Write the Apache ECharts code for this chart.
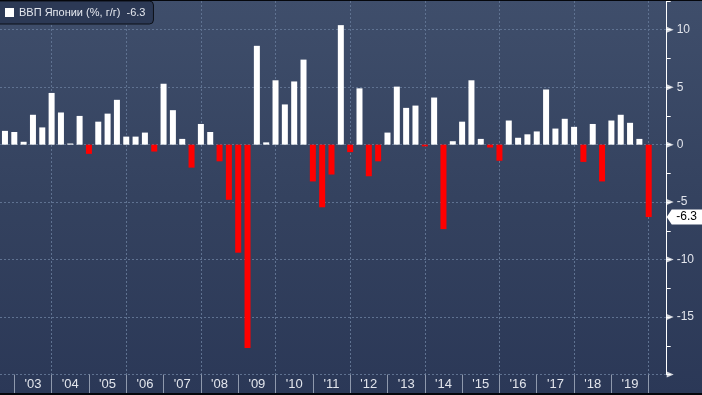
<!DOCTYPE html>
<html><head><meta charset="utf-8">
<script src="https://cdn.jsdelivr.net/npm/echarts@6/dist/echarts.min.js"></script>
<style>
html,body{margin:0;padding:0;background:#000;}
#c{width:702px;height:395px;background:linear-gradient(to bottom,#3f4e6b 0%,#34425f 50%,#2b3857 100%);}
</style></head><body><div id="c"></div>
<script>
const seriesName = 'ВВП Японии (%, г/г)';
const firstYear = 2002;
const firstQuarter = 3;
const gdpValues = [1.2,1.1,0.25,2.6,1.5,4.5,2.8,0.1,2.5,-0.8,2.0,2.7,3.9,0.7,0.7,1.05,-0.6,5.3,3.0,0.5,-2.0,1.8,1.1,-1.45,-4.8,-9.4,-17.7,8.6,0.2,5.6,3.5,5.5,7.4,-3.2,-5.45,-2.6,10.4,-0.65,4.9,-2.75,-1.45,1.05,5.05,3.2,3.4,-0.15,4.1,-7.35,0.3,2.0,5.6,0.5,-0.25,-1.4,2.1,0.6,0.9,1.15,4.8,1.4,2.25,1.55,-1.5,1.8,-3.2,2.1,2.6,1.9,0.5,-6.3];
const yearLabels = ["'03","'04","'05","'06","'07","'08","'09","'10","'11","'12","'13","'14","'15","'16","'17","'18","'19"];
const yMajorTicks = [-20,-15,-10,-5,0,5,10];

const X_MIN = 2002.617, X_MAX = 2020.482;
const Y_MIN = -20, Y_MAX = 12.5;
const FONT = '"Liberation Sans", Arial, sans-serif';
const lastValue = gdpValues[gdpValues.length - 1];
// quarter-end date as fractional year
const quarterEnd = i => firstYear + (firstQuarter + i) / 4;

const chart = echarts.init(document.getElementById('c'), null, {renderer: 'canvas'});
const gridDash = '#5f7291';
const clear = 'rgba(0,0,0,0)';
chart.setOption({
  animation: false,
  textStyle: {fontFamily: FONT},
  legend: {
    data: [seriesName], left: -4, top: 1, icon: 'rect', itemWidth: 9, itemHeight: 9,
    padding: [6, 8, 6, 9], backgroundColor: '#2c3955', borderColor: '#0c1018', borderWidth: 1, borderRadius: 4,
    textStyle: {color: '#e4e7ee', fontSize: 11, fontFamily: FONT},
    formatter: n => n + '  ' + lastValue
  },
  graphic: [
    {type: 'rect', shape: {x: 0, y: 0, width: 702, height: 1}, style: {fill: '#05070c'}, z: 100},
    {type: 'rect', shape: {x: 0, y: 393, width: 702, height: 2}, style: {fill: '#05070c'}, z: 100}
  ],
  grid: [
    {left: 0, right: 35.3, top: 1, bottom: 20.5},
    {left: 14.3, right: 53.3, top: 1, bottom: 20.5}
  ],
  xAxis: [
    {type: 'value', gridIndex: 0, min: X_MIN, max: X_MAX,
     axisLine: {show: false}, axisTick: {show: false}, axisLabel: {show: false}, splitLine: {show: false}},
    {type: 'category', gridIndex: 1, position: 'bottom', data: yearLabels, boundaryGap: true,
     axisLine: {show: false},
     axisTick: {show: true, length: 20, interval: 0, lineStyle: {color: '#8f99ad', width: 1}},
     axisLabel: {color: '#e2e5ec', fontSize: 13, margin: 3, interval: 0, fontFamily: FONT},
     splitLine: {show: true, interval: 0, lineStyle: {color: [clear, gridDash], type: [2, 2], width: 1}}}
  ],
  yAxis: [
    {type: 'value', gridIndex: 0, position: 'right', min: Y_MIN, max: Y_MAX, interval: 2.5,
     axisLine: {show: true, lineStyle: {color: '#ffffff', width: 1}},
     axisTick: {show: true, length: 4, lineStyle: {color: '#ffffff'}},
     axisLabel: {color: '#e2e5ec', fontSize: 12, margin: 10, fontFamily: FONT,
       formatter: v => (v % 5 === 0 && v > Y_MIN) ? String(v) : ''},
     splitLine: {show: true, lineStyle: {color: [gridDash, clear], type: [2, 2], width: 1}}},
    {type: 'value', gridIndex: 1, show: false}
  ],
  series: [
    {
      name: seriesName, type: 'bar', xAxisIndex: 0, yAxisIndex: 0, barWidth: 6, z: 3,
      itemStyle: {color: '#ffffff'},
      data: gdpValues.map((v, i) => ({value: [quarterEnd(i), v], itemStyle: v < 0 ? {color: '#ff0000'} : undefined})),
      markPoint: {
        symbol: 'path://M0,7 L5,0 L36,0 L36,14 L5,14 Z', symbolSize: [36, 15], symbolKeepAspect: false,
        symbolOffset: ['50%', 0], z: 10,
        itemStyle: {color: '#ffffff'},
        label: {show: true, color: '#000', fontSize: 12, fontFamily: FONT, offset: [2, 0], formatter: p => String(p.value)},
        data: [{coord: [X_MAX, lastValue], value: lastValue}]
      }
    },
    {
      type: 'scatter', xAxisIndex: 0, yAxisIndex: 0, silent: true, clip: false, z: 5,
      symbol: 'triangle', symbolRotate: -90, symbolSize: [6, 7], symbolOffset: [3.5, 0],
      itemStyle: {color: '#ffffff'},
      data: yMajorTicks.map(t => [X_MAX, t])
    }
  ]
});
</script></body></html>
